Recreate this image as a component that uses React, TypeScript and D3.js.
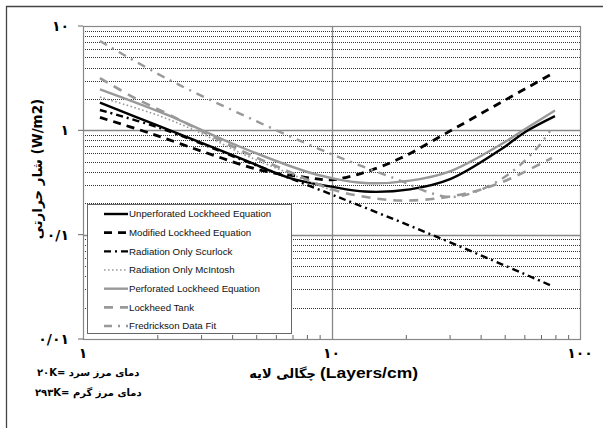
import React from "react";
import * as d3 from "d3";

// ---- data ----
const xTickValues = [1, 10, 100];
const xTickLabels = ["۱", "۱۰", "۱۰۰"];
const yTickValues = [10, 1, 0.1, 0.01];
const yTickLabels = ["۱۰", "۱", "۰/۱", "۰/۰۱"];

const unperforatedX = [1.17, 2.04, 4.28, 6.81, 9.96, 13.6, 20.7, 30, 47.6, 60.4, 79.3];
const unperforatedY = [1.84, 1.09, 0.542, 0.349, 0.289, 0.259, 0.272, 0.34, 0.647, 0.97, 1.37];

const modifiedX = [1.17, 1.86, 3.13, 5.16, 7.47, 9.96, 11.5, 13.85, 18.9, 30, 47.6, 75.7];
const modifiedY = [1.33, 0.938, 0.61, 0.416, 0.36, 0.335, 0.355, 0.401, 0.539, 0.985, 1.83, 3.39];

const scurlockX = [1.17, 2.04, 4.28, 10.14, 27.3, 75.7];
const scurlockY = [1.566, 1.052, 0.531, 0.2398, 0.0928, 0.0329];

const mcintoshX = [1.17, 2.04, 3.04, 4.28, 6.81, 9.96];
const mcintoshY = [2.085, 1.371, 0.918, 0.61, 0.384, 0.268];

const perforatedX = [1.17, 2.158, 4.28, 7.95, 9.96, 13.64, 20.7, 30, 47.6, 62.9, 79.3];
const perforatedY = [2.473, 1.423, 0.696, 0.401, 0.349, 0.3125, 0.33, 0.405, 0.723, 1.1, 1.548];

const tankX = [1.17, 1.589, 2.198, 4.28, 6.81, 9.96, 13.76, 18.9, 27.3, 37.1, 47.6, 57.4, 69.0, 77.1];
const tankY = [3.17, 2.085, 1.433, 0.647, 0.398, 0.2737, 0.2293, 0.2123, 0.2243, 0.2578, 0.3125, 0.381, 0.4752, 0.5427];

const fredX = [1.17, 2.178, 4.49, 9.96, 19.4, 23.8, 30, 37.8, 47.6, 57.4, 67.7, 75.7];
const fredY = [7.18, 3.124, 1.371, 0.5927, 0.3215, 0.2618, 0.2293, 0.2561, 0.334, 0.4649, 0.6917, 0.9847];

const seriesNames = [
  "Unperforated Lockheed Equation",
  "Modified Lockheed Equation",
  "Radiation Only Scurlock",
  "Radiation Only McIntosh",
  "Perforated Lockheed Equation",
  "Lockheed Tank",
  "Fredrickson Data Fit",
];

const xTitle = "(Layers/cm)";
const xTitleFa = "چگالی لایه";
const yTitle = "شار حرارتی (W/m2)";
const note1 = "۲۰K= دمای مرز سرد";
const note2 = "۲۹۳K= دمای مرز گرم";

// ---- styles ----
const styles = [
  { stroke: "#000", width: 2.4, dash: "" },
  { stroke: "#000", width: 2.8, dash: "8,6" },
  { stroke: "#000", width: 2.4, dash: "7,4,2,4" },
  { stroke: "#999", width: 1.6, dash: "1.6,2.4" },
  { stroke: "#999", width: 2.4, dash: "" },
  { stroke: "#999", width: 2.6, dash: "9,7" },
  { stroke: "#999", width: 2.4, dash: "8,6,2,6" },
];

const W = 603;
const H = 428;
const L = 83, R = 580, T = 26, B = 339;

export default function App() {
  const x = d3.scaleLog().domain([1, 100]).range([L, R]);
  const y = d3.scaleLog().domain([0.01, 10]).range([B, T]);

  const series = [
    [unperforatedX, unperforatedY],
    [modifiedX, modifiedY],
    [scurlockX, scurlockY],
    [mcintoshX, mcintoshY],
    [perforatedX, perforatedY],
    [tankX, tankY],
    [fredX, fredY],
  ];

  const line = d3
    .line<[number, number]>()
    .x((d) => x(d[0]))
    .y((d) => y(d[1]))
    .curve(d3.curveCatmullRom.alpha(0.5));

  const minor: number[] = [];
  [0.01, 0.1, 1].forEach((k) => {
    for (let m = 2; m <= 9; m++) minor.push(m * k);
  });
  const xMinor: number[] = [];
  [1, 10].forEach((k) => {
    for (let m = 2; m <= 9; m++) xMinor.push(m * k);
  });

  const legX = 87, legY = 204, legW = 204, legH = 129;
  const rowStep = 18.67;

  const fontLatin = "'Liberation Sans', Arial, 'DejaVu Sans', sans-serif";
  const fontFa = "'DejaVu Sans', 'Liberation Sans', sans-serif";

  return (
    <svg
      width={W}
      height={H}
      style={{ position: "absolute", left: 0, top: 0, background: "#fff" }}
    >
      <rect x={0} y={0} width={W} height={H} fill="#fff" />
      {/* outer frame */}
      <path d={`M6.5,${H} V6.5 H${W}`} fill="none" stroke="#444" strokeWidth={1.3} />

      {/* minor horizontal gridlines */}
      {minor.map((v, i) => (
        <line
          key={"g" + i}
          x1={L}
          x2={R}
          y1={Math.round(y(v)) + 0.5}
          y2={Math.round(y(v)) + 0.5}
          stroke="#333"
          strokeWidth={1}
          strokeDasharray="1,1"
        />
      ))}
      {/* major gridlines */}
      {[1, 0.1].map((v, i) => (
        <line
          key={"M" + i}
          x1={L}
          x2={R}
          y1={Math.round(y(v)) + 0.5}
          y2={Math.round(y(v)) + 0.5}
          stroke="#888"
          strokeWidth={1.3}
        />
      ))}
      <line
        x1={Math.round(x(10)) + 0.5}
        x2={Math.round(x(10)) + 0.5}
        y1={T}
        y2={B}
        stroke="#888"
        strokeWidth={1.3}
      />
      {/* plot border */}
      <rect x={L + 0.5} y={T + 0.5} width={R - L} height={B - T} fill="none" stroke="#888" strokeWidth={1.2} />

      {/* x minor ticks */}
      {xMinor.map((v, i) => (
        <line
          key={"xt" + i}
          x1={x(v)}
          x2={x(v)}
          y1={B}
          y2={B - 4}
          stroke="#666"
          strokeWidth={1}
        />
      ))}
      {/* y major ticks */}
      {yTickValues.map((v, i) => (
        <line key={"yt" + i} x1={L - 5} x2={L} y1={y(v)} y2={y(v)} stroke="#666" strokeWidth={1} />
      ))}

      {/* series */}
      {series.map((s, i) => {
        const pts = s[0].map((xv, j) => [xv, s[1][j]] as [number, number]);
        const st = styles[i];
        return (
          <path
            key={"s" + i}
            d={line(pts) || ""}
            fill="none"
            stroke={st.stroke}
            strokeWidth={st.width}
            strokeDasharray={st.dash || undefined}
            strokeLinecap="butt"
          />
        );
      })}

      {/* legend */}
      <rect x={legX + 0.5} y={legY + 0.5} width={legW} height={legH} fill="#fff" stroke="#666" strokeWidth={1} />
      {seriesNames.map((name, i) => {
        const cy = legY + 10 + i * rowStep;
        const st = styles[i];
        return (
          <g key={"l" + i}>
            <line
              x1={104}
              x2={128}
              y1={cy}
              y2={cy}
              stroke={st.stroke}
              strokeWidth={st.width}
              strokeDasharray={st.dash || undefined}
            />
            <text x={129} y={cy + 3.4} fontSize={9.7} fontFamily={fontLatin} fill="#111">
              {name}
            </text>
          </g>
        );
      })}

      {/* y tick labels */}
      {yTickValues.map((v, i) => (
        <text
          key={"yl" + i}
          x={69}
          y={y(v) + 5}
          textAnchor="end"
          fontSize={14}
          fontWeight="bold"
          fontFamily={fontFa}
          fill="#000"
        >
          {yTickLabels[i]}
        </text>
      ))}
      {/* x tick labels */}
      {xTickValues.map((v, i) => (
        <text
          key={"xl" + i}
          x={x(v)}
          y={358}
          textAnchor="middle"
          fontSize={14}
          fontWeight="bold"
          fontFamily={fontFa}
          fill="#000"
        >
          {xTickLabels[i]}
        </text>
      ))}

      {/* x title */}
      <text x={316} y={378} textAnchor="end" fontSize={13} fontWeight="bold" fontFamily={fontFa} fill="#000">
        {xTitleFa}
      </text>
      <text
        x={320}
        y={378}
        fontSize={14}
        fontWeight="bold"
        fontFamily={fontLatin}
        fill="#000"
        textLength={98}
        lengthAdjust="spacingAndGlyphs"
      >
        {xTitle}
      </text>

      {/* y title */}
      <text
        transform="translate(42,169) rotate(-90)"
        textAnchor="middle"
        fontSize={13.5}
        fontWeight="bold"
        fontFamily={fontFa}
        fill="#000"
      >
        {yTitle}
      </text>

      {/* notes */}
      <text x={37} y={376} fontSize={10} fontWeight="bold" fontFamily={fontFa} fill="#000">
        {note1}
      </text>
      <text x={35} y={396} fontSize={10} fontWeight="bold" fontFamily={fontFa} fill="#000">
        {note2}
      </text>
    </svg>
  );
}
